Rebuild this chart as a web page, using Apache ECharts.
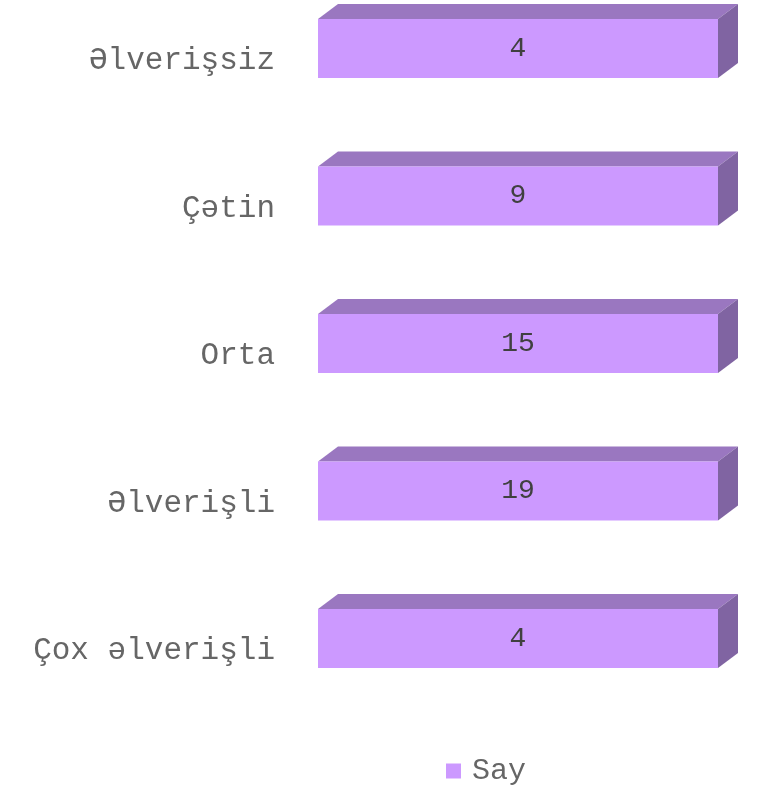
<!DOCTYPE html>
<html>
<head>
<meta charset="utf-8">
<script src="https://cdn.jsdelivr.net/npm/echarts@6/dist/echarts.min.js"></script>
<style>
  html, body { margin: 0; padding: 0; background: #ffffff; }
  #chart { width: 759px; height: 793px; }
</style>
</head>
<body>
<div id="chart"></div>
<script>
// categories, bottom to top as on the axis
const categories = ["Çox əlverişli", "Əlverişli", "Orta", "Çətin", "Əlverişsiz"];
const counts = [4, 19, 15, 9, 4];
const seriesName = "Say";

const FRONT = "#CC99FF";
const TOP = "#9A77C0";
const SIDE = "#8064A2";
const DX = 20, DY = -15;

// 100% bars: each bar is its own total
const barData = counts.map((c, i) => [c / c * 100, i, c]);

const chart = echarts.init(document.getElementById("chart"));

chart.setOption({
    animation: false,
    grid: { left: 318, right: 41, top: -25.25, height: 737.5, outerBoundsMode: "none", containLabel: false },
    xAxis: {
        type: "value", min: 0, max: 100, show: false
    },
    yAxis: {
        type: "category",
        data: categories,
        axisLine: { show: false },
        axisTick: { show: false },
        axisLabel: {
            margin: 43,
            formatter: v => "{a|" + v + "}",
            rich: {
                a: {
                    fontFamily: "Liberation Mono",
                    fontSize: 31,
                    color: "#666666",
                    padding: [25, 0, 0, 0]
                }
            }
        }
    },
    legend: {
        top: 756,
        left: 446,
        padding: 0,
        icon: "rect",
        itemWidth: 15,
        itemHeight: 15,
        textStyle: { fontFamily: "Liberation Mono", fontSize: 30, lineHeight: 30, color: "#666666", padding: [0, 0, 0, 6] },
        data: [seriesName]
    },
    series: [{
        name: seriesName,
        type: "custom",
        itemStyle: { color: FRONT },
        encode: { x: 0, y: 1 },
        data: barData,
        renderItem: function (params, api) {
            const end = api.coord([api.value(0), api.value(1)]);
            const start = api.coord([0, api.value(1)]);
            const h = 59;
            const x0 = start[0], x1 = end[0];
            const y0 = end[1] - h / 2, y1 = end[1] + h / 2;
            return {
                type: "group",
                children: [
                    {
                        type: "polygon",
                        shape: { points: [[x0, y0], [x0 + DX, y0 + DY], [x1 + DX, y0 + DY], [x1, y0]] },
                        style: { fill: TOP }
                    },
                    {
                        type: "polygon",
                        shape: { points: [[x1, y0], [x1 + DX, y0 + DY], [x1 + DX, y1 + DY], [x1, y1]] },
                        style: { fill: SIDE }
                    },
                    {
                        type: "rect",
                        shape: { x: x0, y: y0, width: x1 - x0, height: h },
                        style: { fill: FRONT }
                    },
                    {
                        type: "text",
                        style: {
                            text: String(api.value(2)),
                            x: (x0 + x1) / 2,
                            y: (y0 + y1) / 2,
                            align: "center",
                            verticalAlign: "middle",
                            fontFamily: "Liberation Mono",
                            fontSize: 28,
                            fill: "#404040"
                        }
                    }
                ]
            };
        }
    }]
});
</script>
</body>
</html>
